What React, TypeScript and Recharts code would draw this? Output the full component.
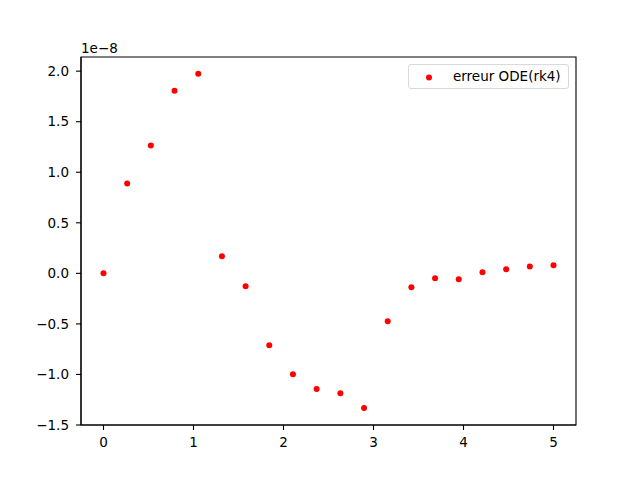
import React from 'react';
import { ScatterChart, Scatter, XAxis, YAxis, ReferenceArea } from 'recharts';

// x positions (20 points from 0 to 5)
const xValues = [0, 0.263, 0.526, 0.789, 1.053, 1.316, 1.579, 1.842, 2.105, 2.368, 2.632, 2.895, 3.158, 3.421, 3.684, 3.947, 4.211, 4.474, 4.737, 5.0];
// error values, in units of 1e-8
const errValues = [0.0, 0.888, 1.264, 1.807, 1.974, 0.168, -0.128, -0.711, -0.997, -1.145, -1.185, -1.333, -0.474, -0.138, -0.049, -0.059, 0.01, 0.04, 0.069, 0.079];
const xTicks = [0, 1, 2, 3, 4, 5];
const yTicks = [-1.5, -1.0, -0.5, 0.0, 0.5, 1.0, 1.5, 2.0];
const xDomain = [-0.25, 5.25];
const yDomain = [-1.5, 2.14];
const seriesName = 'erreur ODE(rk4)';
const offsetLabel = '1e\u22128';

const data = xValues.map((x, i) => ({ x, y: errValues[i] }));

const FONT = 'DejaVu Sans';
const FS = 13.5;

const Dot = (props: any) => {
  const { cx, cy } = props;
  if (cx == null || cy == null) return null;
  return <circle cx={cx} cy={cy} r={3} fill="#ff0000" />;
};

const fmtY = (v: number) => v.toFixed(1).replace('-', '\u2212');

export default function App() {
  const tickStyle = { fontFamily: FONT, fontSize: FS, fill: '#000' };
  const axisLine = { stroke: '#000', strokeWidth: 1.1 };
  return (
    <div style={{ position: 'absolute', left: 0, top: 0, width: 640, height: 478, background: '#fff' }}>
      <ScatterChart width={640} height={478} margin={{ top: 57, right: 64, bottom: 23, left: 0 }}>
        <XAxis
          dataKey="x"
          type="number"
          domain={xDomain}
          ticks={xTicks}
          allowDataOverflow
          height={30}
          tick={tickStyle}
          tickSize={5}
          tickMargin={7}
          axisLine={axisLine}
          tickLine={{ stroke: '#000', strokeWidth: 1.1 }}
        />
        <YAxis
          dataKey="y"
          type="number"
          domain={yDomain}
          ticks={yTicks}
          allowDataOverflow
          width={81}
          tick={tickStyle}
          tickFormatter={fmtY}
          tickSize={5}
          tickMargin={7}
          axisLine={axisLine}
          tickLine={{ stroke: '#000', strokeWidth: 1.1 }}
        />
        <ReferenceArea
          x1={xDomain[0]}
          x2={xDomain[1]}
          y1={yDomain[0]}
          y2={yDomain[1]}
          fill="none"
          fillOpacity={0}
          stroke="#000"
          strokeWidth={1.1}
          ifOverflow="visible"
        />
        <Scatter
          name={seriesName}
          data={data}
          shape={<Dot />}
          isAnimationActive={false}
        />
      </ScatterChart>
      <div
        style={{
          position: 'absolute',
          left: 81,
          top: 40,
          fontFamily: FONT,
          fontSize: FS,
          lineHeight: '16px',
          color: '#000',
        }}
      >
        {offsetLabel}
      </div>
      <div
        style={{
          position: 'absolute',
          left: 408,
          top: 64,
          width: 159,
          height: 23,
          border: '1px solid #d9d9d9',
          borderRadius: 3,
          background: 'rgba(255,255,255,0.8)',
          fontFamily: FONT,
          fontSize: FS,
          color: '#000',
        }}
      >
        <svg style={{ position: 'absolute', left: 0, top: 0 }} width={40} height={23}>
          <circle cx={20} cy={12.5} r={3} fill="#ff0000" />
        </svg>
        <div style={{ position: 'absolute', left: 44, top: 3, lineHeight: '17px', whiteSpace: 'nowrap' }}>{seriesName}</div>
      </div>
    </div>
  );
}
